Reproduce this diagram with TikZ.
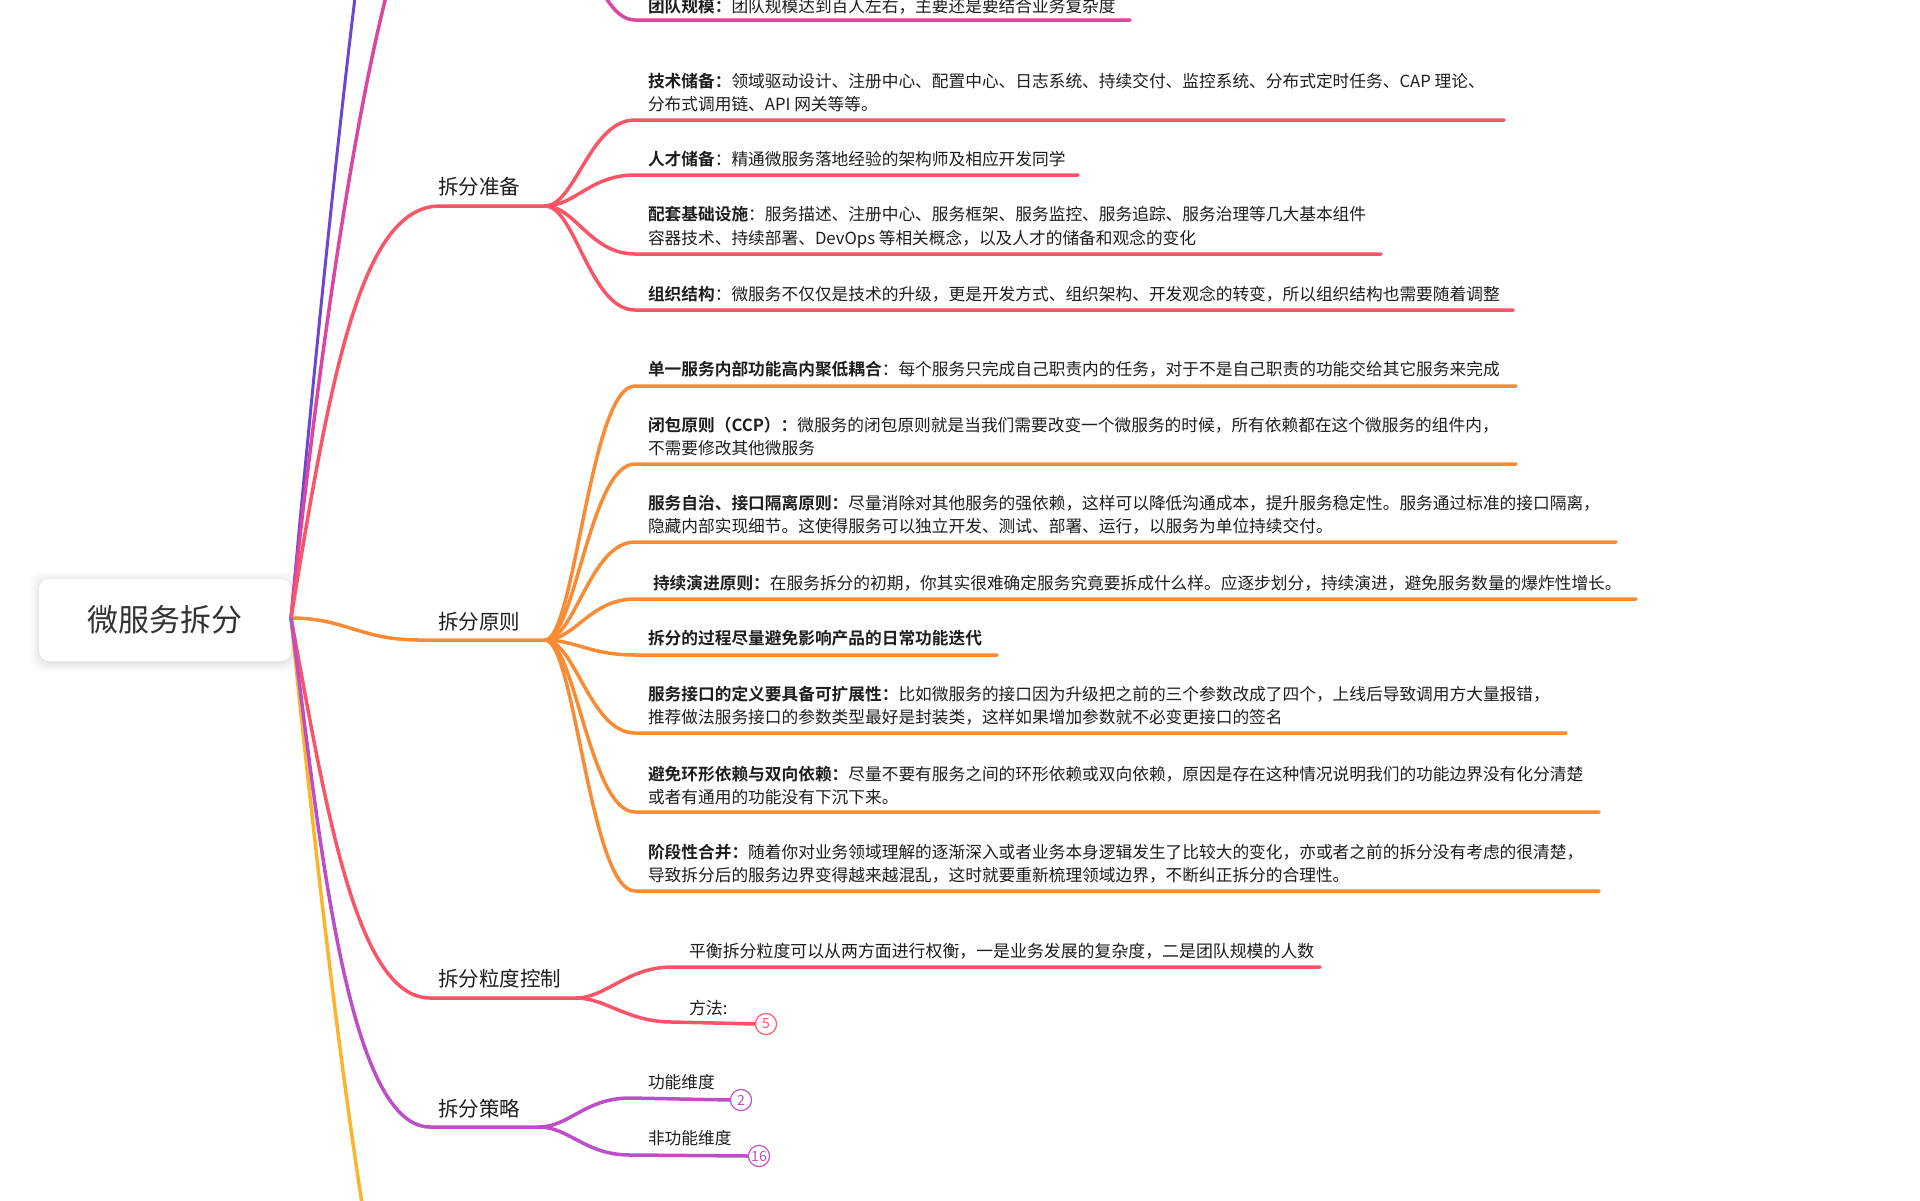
\documentclass[tikz,border=0pt]{standalone}
\usepackage{fontspec}
\setmainfont{Noto Sans CJK SC}[BoldFont={Noto Sans CJK SC Bold}]
\definecolor{txt}{HTML}{1E1E1E}
\definecolor{roottxt}{HTML}{333333}
\definecolor{cred}{HTML}{FA5566}
\definecolor{corange}{HTML}{FA8B35}
\definecolor{cpurple}{HTML}{BE4DC8}
\definecolor{cmagenta}{HTML}{DC46A2}
\definecolor{cviolet}{HTML}{6C47D0}
\definecolor{cyellow}{HTML}{FDB42D}
\tikzset{
  every node/.style={inner sep=0pt, outer sep=0pt},
  leaf/.style={anchor=base west, align=left, text=txt, font=\fontsize{16.7}{23.5}\selectfont},
  leafbig/.style={anchor=base west, align=left, text=txt, font=\fontsize{16.9}{23.5}\selectfont},
  lvlone/.style={anchor=base west, text=txt, font=\fontsize{20.5}{24}\selectfont},
  rootbox/.style={rounded corners=10pt, fill=white, minimum width=252pt, minimum height=82pt,
    text=roottxt, font=\fontsize{31}{36}\selectfont},
  conn/.style={line width=3.5pt, line cap=round, line join=round},
  fan/.style={to path={.. controls ([xshift=30pt]\tikztostart) and ([xshift=-45pt]\tikztotarget) .. (\tikztotarget) \tikztonodes}},
  badge/.style={circle, line width=1pt, fill=white, minimum size=21pt, font=\fontsize{14}{14}\selectfont},
}
\begin{document}
\begin{tikzpicture}[x=1pt,y=-1pt]
\useasboundingbox (0,0) rectangle (1920,1200);
\clip (0,0) rectangle (1920,1200);
\fill[white] (0,0) rectangle (1920,1200);

% ---------- root ----------
\foreach \s/\o in {9/0.012, 7/0.015, 5/0.02, 3/0.025, 1/0.03}
  \fill[black, opacity=\o, rounded corners=12pt] (39-\s, 581-\s) rectangle (291+\s, 663+\s);
\node[rootbox] (root) at (165,620) {微服务拆分};
\coordinate (rootR) at (291,618);

% ---------- off-canvas branches (top / bottom) ----------
\coordinate (violetEnd) at (440,-420);
\coordinate (magS) at (440,-120);
\coordinate (magB) at (545,-120);
\coordinate (yellowEnd) at (400,1400);
\draw[conn, cviolet, line width=3pt] (rootR) .. controls (325,250) and (390,-420) .. (violetEnd);
\draw[conn, cmagenta] (rootR) .. controls (330,250) and (390,-120) .. (magS) -- (magB);
\draw[conn, cyellow] (rootR) .. controls (320,900) and (360,1250) .. (yellowEnd);

% 团队规模
\coordinate (tdS) at (635,20);
\coordinate (tdE) at (1130,20);
\node[leaf] (td) at (648,12) {\textbf{团队规模：}团队规模达到百人左右，主要还是要结合业务复杂度};
\draw[conn, cmagenta] (magB) to[fan] (tdS) -- (tdE);

% ---------- 拆分准备 ----------
\coordinate (zbS) at (440,206);
\coordinate (zbB) at (545,206);
\node[lvlone] (zb) at (438,194) {拆分准备};
\draw[conn, cred] (rootR) .. controls (330,380) and (360,206) .. (zbS) -- (zbB);

\coordinate (jsS) at (635,120); \coordinate (jsE) at (1504,120);
\node[leaf] (js) at (648,110.5) {\textbf{技术储备：}领域驱动设计、注册中心、配置中心、日志系统、持续交付、监控系统、分布式定时任务、CAP 理论、\\分布式调用链、API 网关等等。};
\draw[conn, cred] (zbB) to[fan] (jsS) -- (jsE);

\coordinate (rcS) at (635,175); \coordinate (rcE) at (1078,175);
\node[leaf] (rc) at (648,165) {\textbf{人才储备}：精通微服务落地经验的架构师及相应开发同学};
\draw[conn, cred] (zbB) to[fan] (rcS) -- (rcE);

\coordinate (ptS) at (635,254); \coordinate (ptE) at (1381,254);
\node[leaf] (pt) at (648,244) {\textbf{配套基础设施}：服务描述、注册中心、服务框架、服务监控、服务追踪、服务治理等几大基本组件\\容器技术、持续部署、DevOps 等相关概念，以及人才的储备和观念的变化};
\draw[conn, cred] (zbB) to[fan] (ptS) -- (ptE);

\coordinate (zzS) at (635,310); \coordinate (zzE) at (1513,310);
\node[leaf] (zz) at (648,300) {\textbf{组织结构}：微服务不仅仅是技术的升级，更是开发方式、组织架构、开发观念的转变，所以组织结构也需要随着调整};
\draw[conn, cred] (zbB) to[fan] (zzS) -- (zzE);

% ---------- 拆分原则 ----------
\coordinate (yzS) at (420,640);
\coordinate (yzB) at (545,640);
\node[lvlone] (yz) at (438,629) {拆分原则};
\draw[conn, corange] (rootR) .. controls (345,618) and (360,640) .. (yzS) -- (yzB);

\coordinate (y1S) at (635,386); \coordinate (y1E) at (1516,386);
\node[leaf] (y1) at (648,375) {\textbf{单一服务内部功能高内聚低耦合}：每个服务只完成自己职责内的任务，对于不是自己职责的功能交给其它服务来完成};
\draw[conn, corange] (yzB) to[fan] (y1S) -- (y1E);

\coordinate (y2S) at (635,464); \coordinate (y2E) at (1516,464);
\node[leaf] (y2) at (648,454.5) {\textbf{闭包原则（CCP）：}微服务的闭包原则就是当我们需要改变一个微服务的时候，所有依赖都在这个微服务的组件内，\\不需要修改其他微服务};
\draw[conn, corange] (yzB) to[fan] (y2S) -- (y2E);

\coordinate (y3S) at (635,542); \coordinate (y3E) at (1616,542);
\node[leaf] (y3) at (648,532.5) {\textbf{服务自治、接口隔离原则：}尽量消除对其他服务的强依赖，这样可以降低沟通成本，提升服务稳定性。服务通过标准的接口隔离，\\隐藏内部实现细节。这使得服务可以独立开发、测试、部署、运行，以服务为单位持续交付。};
\draw[conn, corange] (yzB) to[fan] (y3S) -- (y3E);

\coordinate (y4S) at (635,599); \coordinate (y4E) at (1636,599);
\node[leaf] (y4) at (653,589) {\textbf{持续演进原则：}在服务拆分的初期，你其实很难确定服务究竟要拆成什么样。应逐步划分，持续演进，避免服务数量的爆炸性增长。};
\draw[conn, corange] (yzB) to[fan] (y4S) -- (y4E);

\coordinate (y5S) at (635,655); \coordinate (y5E) at (997,655);
\node[leaf] (y5) at (648,644) {\textbf{拆分的过程尽量避免影响产品的日常功能迭代}};
\draw[conn, corange] (yzB) to[fan] (y5S) -- (y5E);

\coordinate (y6S) at (635,733); \coordinate (y6E) at (1566,733);
\node[leaf] (y6) at (648,723.5) {\textbf{服务接口的定义要具备可扩展性：}比如微服务的接口因为升级把之前的三个参数改成了四个，上线后导致调用方大量报错，\\推荐做法服务接口的参数类型最好是封装类，这样如果增加参数就不必变更接口的签名};
\draw[conn, corange] (yzB) to[fan] (y6S) -- (y6E);

\coordinate (y7S) at (635,812); \coordinate (y7E) at (1599,812);
\node[leaf] (y7) at (648,803.5) {\textbf{避免环形依赖与双向依赖：}尽量不要有服务之间的环形依赖或双向依赖，原因是存在这种情况说明我们的功能边界没有化分清楚\\或者有通用的功能没有下沉下来。};
\draw[conn, corange] (yzB) to[fan] (y7S) -- (y7E);

\coordinate (y8S) at (635,891); \coordinate (y8E) at (1599,891);
\node[leaf] (y8) at (648,881.5) {\textbf{阶段性合并：}随着你对业务领域理解的逐渐深入或者业务本身逻辑发生了比较大的变化，亦或者之前的拆分没有考虑的很清楚，\\导致拆分后的服务边界变得越来越混乱，这时就要重新梳理领域边界，不断纠正拆分的合理性。};
\draw[conn, corange] (yzB) to[fan] (y8S) -- (y8E);

% ---------- 拆分粒度控制 ----------
\coordinate (ldS) at (430,998);
\coordinate (ldB) at (576,998);
\node[lvlone] (ld) at (438,986) {拆分粒度控制};
\draw[conn, cred] (rootR) .. controls (325,800) and (355,998) .. (ldS) -- (ldB);

\coordinate (phS) at (672,967); \coordinate (phE) at (1320,967);
\node[leafbig] (ph) at (689,957) {平衡拆分粒度可以从两方面进行权衡，一是业务发展的复杂度，二是团队规模的人数};
\draw[conn, cred] (ldB) to[fan] (phS) -- (phE);

\coordinate (ffS) at (672,1022);
\node[leafbig] (ff) at (689,1014) {方法:};
\node[badge, draw=cred, text=cred] (b5) at (766,1024) {5};
\draw[conn, cred] (ldB) to[fan] (ffS) -- (b5.west);

% ---------- 拆分策略 ----------
\coordinate (clS) at (430,1127);
\coordinate (clB) at (539,1127);
\node[lvlone] (cl) at (438,1116) {拆分策略};
\draw[conn, cpurple] (rootR) .. controls (318,820) and (345,1127) .. (clS) -- (clB);

\coordinate (gnS) at (630,1098);
\node[leaf] (gn) at (648,1088) {功能维度};
\node[badge, draw=cpurple, text=cpurple] (b2) at (741,1100) {2};
\draw[conn, cpurple] (clB) to[fan] (gnS) -- (b2.west);

\coordinate (fgS) at (630,1155);
\node[leaf] (fg) at (648,1144) {非功能维度};
\node[badge, draw=cpurple, text=cpurple] (b16) at (759,1156) {16};
\draw[conn, cpurple] (clB) to[fan] (fgS) -- (b16.west);

% redraw badges on top of line ends
\node[badge, draw=cred, text=cred] at (b5) {5};
\node[badge, draw=cpurple, text=cpurple] at (b2) {2};
\node[badge, draw=cpurple, text=cpurple] at (b16) {16};
\end{tikzpicture}
\end{document}
